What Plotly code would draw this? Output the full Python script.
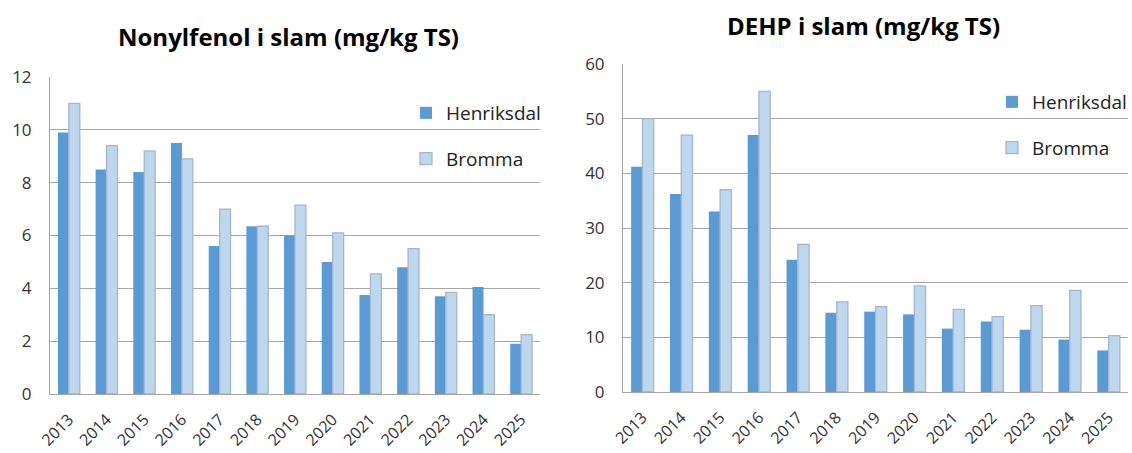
import plotly.graph_objects as go

years = ["2013", "2014", "2015", "2016", "2017", "2018", "2019",
         "2020", "2021", "2022", "2023", "2024", "2025"]

nonyl_henriksdal = [9.9, 8.5, 8.4, 9.5, 5.6, 6.35, 6.0, 5.0, 3.75, 4.8, 3.7, 4.05, 1.9]
nonyl_bromma = [11.0, 9.4, 9.2, 8.9, 7.0, 6.35, 7.15, 6.1, 4.55, 5.5, 3.85, 3.0, 2.25]

dehp_henriksdal = [41.2, 36.2, 33.0, 47.0, 24.2, 14.5, 14.7, 14.2, 11.6, 12.9, 11.4, 9.6, 7.6]
dehp_bromma = [50.0, 47.0, 37.0, 55.0, 27.0, 16.5, 15.6, 19.4, 15.1, 13.8, 15.8, 18.6, 10.3]

title_left = "Nonylfenol i slam (mg/kg TS)"
title_right = "DEHP i slam (mg/kg TS)"

C_H = "#5B9BD5"
C_B = "#BDD7EE"
C_B_LINE = "#A7B6CB"
FONT = "Open Sans"
W, H = 1132, 453

fig = go.Figure()

fig.add_trace(go.Bar(x=years, y=nonyl_henriksdal, name="Henriksdal",
                     marker=dict(color=C_H, line=dict(width=0)),
                     xaxis="x", yaxis="y", legend="legend", legendgroup="a"))
fig.add_trace(go.Bar(x=years, y=nonyl_bromma, name="Bromma",
                     marker=dict(color=C_B, line=dict(color=C_B_LINE, width=1.3)),
                     xaxis="x", yaxis="y", legend="legend", legendgroup="b"))
fig.add_trace(go.Bar(x=years, y=dehp_henriksdal, name="Henriksdal",
                     marker=dict(color=C_H, line=dict(width=0)),
                     xaxis="x2", yaxis="y2", legend="legend2", legendgroup="c"))
fig.add_trace(go.Bar(x=years, y=dehp_bromma, name="Bromma",
                     marker=dict(color=C_B, line=dict(color=C_B_LINE, width=1.3)),
                     xaxis="x2", yaxis="y2", legend="legend2", legendgroup="d"))

def px(v):
    return v / W

def py(v):
    return 1 - v / H

grid = "#A6A6A6"
tickfont = dict(family=FONT, size=17, color="#333333")
xtickfont = dict(family=FONT, size=16, color="#333333")

common_x = dict(showgrid=False, showline=True, linecolor=grid, linewidth=1,
                ticks="", tickangle=-45, tickfont=xtickfont, fixedrange=True,
                automargin=False, ticklabelstandoff=9, ticklabelshift=0)
common_y = dict(showgrid=True, gridcolor=grid, gridwidth=1, showline=True,
                linecolor=grid, linewidth=1, zeroline=False, ticks="",
                tickfont=tickfont, fixedrange=True, automargin=False,
                ticklabelstandoff=14)

legfont = dict(family=FONT, size=19, color="#222222")

fig.update_layout(
    width=W, height=H,
    margin=dict(l=0, r=0, t=0, b=0, autoexpand=False),
    paper_bgcolor="white", plot_bgcolor="white",
    barmode="group", bargap=0.42, bargroupgap=0.0,
    font=dict(family=FONT, color="#000000"),
    showlegend=True,
    xaxis=dict(domain=[px(50), px(540)], anchor="y", **common_x),
    yaxis=dict(domain=[py(394), py(77)], anchor="x", range=[0, 12], dtick=2, **common_y),
    xaxis2=dict(domain=[px(623), px(1128)], anchor="y2", **common_x),
    yaxis2=dict(domain=[py(392), py(64)], anchor="x2", range=[0, 60], dtick=10, **common_y),
    legend=dict(x=px(406), y=py(94), xanchor="left", yanchor="top",
                font=legfont, bgcolor="rgba(0,0,0,0)", tracegroupgap=18, itemwidth=30),
    legend2=dict(x=px(992), y=py(83), xanchor="left", yanchor="top",
                 font=legfont, bgcolor="rgba(0,0,0,0)", tracegroupgap=18, itemwidth=30),
    annotations=[
        dict(text="<b>" + title_left + "</b>", x=px(288), y=py(37), xref="paper", yref="paper",
             showarrow=False, font=dict(family=FONT, size=24, color="#000000"),
             xanchor="center", yanchor="middle"),
        dict(text="<b>" + title_right + "</b>", x=px(863), y=py(26), xref="paper", yref="paper",
             showarrow=False, font=dict(family=FONT, size=24, color="#000000"),
             xanchor="center", yanchor="middle"),
    ],
)

fig.write_html("out.html", config={"displayModeBar": False},
               post_script="document.body.style.margin='0';")
